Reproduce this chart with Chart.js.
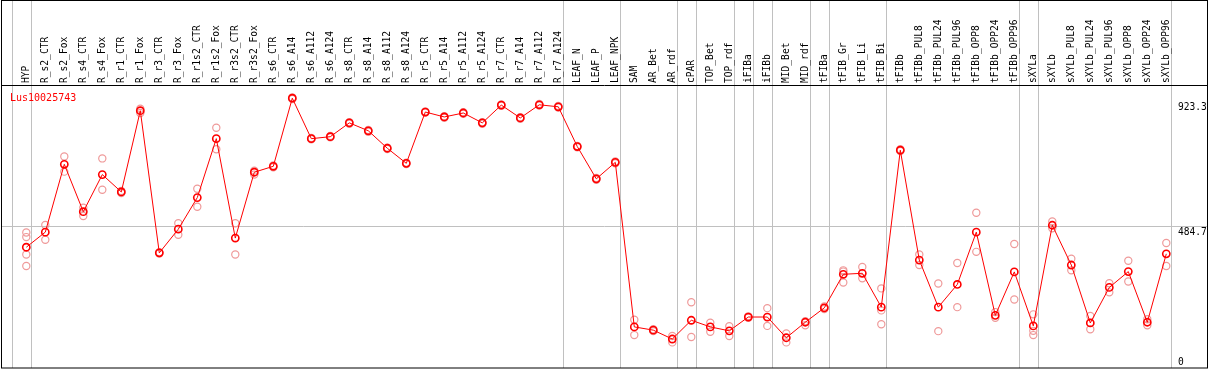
<!DOCTYPE html>
<html>
<head>
<meta charset="utf-8">
<script src="https://cdn.jsdelivr.net/npm/chart.js@4/dist/chart.umd.min.js"></script>
<style>
html,body{margin:0;padding:0;background:#fff;}
canvas{display:block;}
</style>
</head>
<body>
<canvas id="c" width="1209" height="370"></canvas>
<script>
const geneName = "Lus10025743";
const categories = ["HYP","R_s2_CTR","R_s2_Fox","R_s4_CTR","R_s4_Fox","R_r1_CTR","R_r1_Fox","R_r3_CTR","R_r3_Fox","R_r1s2_CTR","R_r1s2_Fox","R_r3s2_CTR","R_r3s2_Fox","R_s6_CTR","R_s6_A14","R_s6_A112","R_s6_A124","R_s8_CTR","R_s8_A14","R_s8_A112","R_s8_A124","R_r5_CTR","R_r5_A14","R_r5_A112","R_r5_A124","R_r7_CTR","R_r7_A14","R_r7_A112","R_r7_A124","LEAF_N","LEAF_P","LEAF_NPK","SAM","AR_Bet","AR_rdf","cPAR","TOP_Bet","TOP_rdf","iFIBa","iFIBb","MID_Bet","MID_rdf","tFIBa","tFIB_Gr","tFIB_Li","tFIB_Bi","tFIBb","tFIBb_PUL8","tFIBb_PUL24","tFIBb_PUL96","tFIBb_OPP8","tFIBb_OPP24","tFIBb_OPP96","sXYLa","sXYLb","sXYLb_PUL8","sXYLb_PUL24","sXYLb_PUL96","sXYLb_OPP8","sXYLb_OPP24","sXYLb_OPP96"];
const meanValues = [411.8,464.9,703.2,536.7,667.1,606.1,891.6,392.0,475.3,586.3,793.4,444.0,675.4,696.3,935.6,793.4,800.3,848.9,821.1,759.7,706.7,887.0,869.7,883.6,848.9,911.3,866.2,912.4,905.4,765.6,652.2,710.1,131.8,120.4,89.2,155.1,131.8,117.9,166.5,166.5,93.7,148.1,198.8,316.7,320.2,201.2,752.8,366.7,201.2,281.0,464.9,172.4,325.1,135.3,489.1,349.3,145.7,270.6,326.1,148.1,388.5];
const rep1 = [463.8,490.2,730.9,550.6,724.0,609.5,898.5,394.4,496.1,617.5,831.5,496.1,681.0,699.0,938.0,796.0,803.0,851.0,824.0,762.0,709.0,889.0,872.0,886.0,851.0,914.0,869.0,915.0,908.0,768.0,655.0,713.0,157.2,123.8,99.6,218.6,146.7,134.3,168.9,197.7,108.6,151.6,203.6,330.6,342.4,267.1,756.0,386.1,284.5,356.3,533.2,183.9,423.2,175.9,502.0,371.2,170.0,285.5,364.3,158.5,426.7];
const rep2 = [447.5,438.1,677.5,521.4,614.0,602.6,883.6,389.6,455.5,554.0,756.3,386.1,667.1,693.0,933.0,791.0,798.0,846.0,818.0,757.0,704.0,885.0,867.0,881.0,846.0,909.0,863.0,910.0,903.0,763.0,649.0,707.0,103.0,116.9,77.4,96.1,114.5,99.6,164.1,135.3,77.4,137.7,194.3,326.1,302.9,189.8,750.0,349.3,116.9,201.2,395.5,164.1,227.9,117.9,478.7,330.6,123.8,253.2,291.4,137.7,345.9];
const rep3 = [386.1,null,null,null,null,null,null,null,null,null,null,null,null,null,null,null,null,null,null,null,null,null,null,null,null,null,null,null,null,null,null,null,null,null,null,null,null,null,null,null,null,null,null,287.9,null,141.2,null,null,null,null,null,null,null,103.0,null,null,null,null,null,null,null];
const rep4 = [345.9,null,null,null,null,null,null,null,null,null,null,null,null,null,null,null,null,null,null,null,null,null,null,null,null,null,null,null,null,null,null,null,null,null,null,null,null,null,null,null,null,null,null,null,null,null,null,null,null,null,null,null,null,null,null,null,null,null,null,null,null];
const yTickLabels = [923.3, 484.7, 0];
const refLineValue = 484.7;
const groupEnds = [-1,0,28,31,34,35,37,38,39,41,42,45,52,53,60];

const FONT = '9.6px "DejaVu Sans Mono", monospace';
const repColor = '#ef9a9a';

const decor = {
  id: 'decor',
  beforeDraw(chart) {
    const ctx = chart.ctx;
    ctx.save();
    ctx.fillStyle = '#fff';
    ctx.fillRect(0, 0, chart.width, chart.height);
    ctx.restore();
  },
  beforeDatasetsDraw(chart) {
    const ctx = chart.ctx, xs = chart.scales.x, ys = chart.scales.y;
    const step = xs.getPixelForValue(1) - xs.getPixelForValue(0);
    ctx.save();
    ctx.strokeStyle = '#c0c0c0';
    ctx.lineWidth = 1;
    groupEnds.forEach(i => {
      const x = Math.round(xs.getPixelForValue(0) + step * i + 4.4) + 0.5;
      ctx.beginPath();
      ctx.moveTo(x, 0);
      ctx.lineTo(x, 368);
      ctx.stroke();
    });
    const yr = Math.round(ys.getPixelForValue(refLineValue)) + 0.5;
    ctx.beginPath();
    ctx.moveTo(2, yr);
    ctx.lineTo(1207, yr);
    ctx.stroke();
    ctx.restore();
  },
  afterDraw(chart) {
    const ctx = chart.ctx, xs = chart.scales.x, ys = chart.scales.y;
    ctx.save();
    // frame
    ctx.strokeStyle = '#000';
    ctx.lineWidth = 1;
    ctx.strokeRect(1.5, 0.5, 1206, 367.5);
    ctx.beginPath();
    ctx.moveTo(1.5, 85.5);
    ctx.lineTo(1207.5, 85.5);
    ctx.stroke();
    // category labels
    ctx.fillStyle = '#000';
    ctx.font = FONT;
    ctx.textAlign = 'left';
    ctx.textBaseline = 'alphabetic';
    categories.forEach((c, i) => {
      const x = xs.getPixelForValue(i);
      ctx.save();
      ctx.translate(x + 3, 83);
      ctx.rotate(-Math.PI / 2);
      ctx.fillText(c, 0, 0);
      ctx.restore();
    });
    // y labels
    ctx.textBaseline = 'top';
    yTickLabels.forEach(v => {
      let y = ys.getPixelForValue(v) + 1.5;
      if (v === 0) y = 358;
      ctx.fillText(String(v), 1178, y);
    });
    // gene name
    ctx.fillStyle = '#ff0000';
    ctx.font = '10px "DejaVu Sans Mono", monospace';
    ctx.textBaseline = 'alphabetic';
    ctx.fillText(geneName, 10, 100.5);
    ctx.restore();
  }
};

function repSet(arr) {
  return {
    data: arr, showLine: false, order: 2,
    pointStyle: 'circle', pointRadius: 3.6, pointBorderWidth: 1.2,
    pointBorderColor: repColor, pointBackgroundColor: 'rgba(0,0,0,0)'
  };
}

new Chart(document.getElementById('c'), {
  type: 'line',
  data: {
    labels: categories,
    datasets: [
      {
        data: meanValues, order: 0,
        borderColor: '#ff0000', borderWidth: 1,
        pointStyle: 'circle', pointRadius: 3.6, pointBorderWidth: 1.6,
        pointBorderColor: '#ff0000', pointBackgroundColor: 'rgba(0,0,0,0)',
        tension: 0
      },
      repSet(rep1), repSet(rep2), repSet(rep3), repSet(rep4)
    ]
  },
  options: {
    responsive: false,
    animation: false,
    devicePixelRatio: 1,
    layout: { padding: { left: 16.8, right: 33.2, top: 85, bottom: 2 } },
    plugins: { legend: { display: false }, tooltip: { enabled: false } },
    scales: {
      x: { type: 'category', offset: true, display: false },
      y: { min: 0, max: 982, display: false }
    }
  },
  plugins: [decor]
});
</script>
</body>
</html>
